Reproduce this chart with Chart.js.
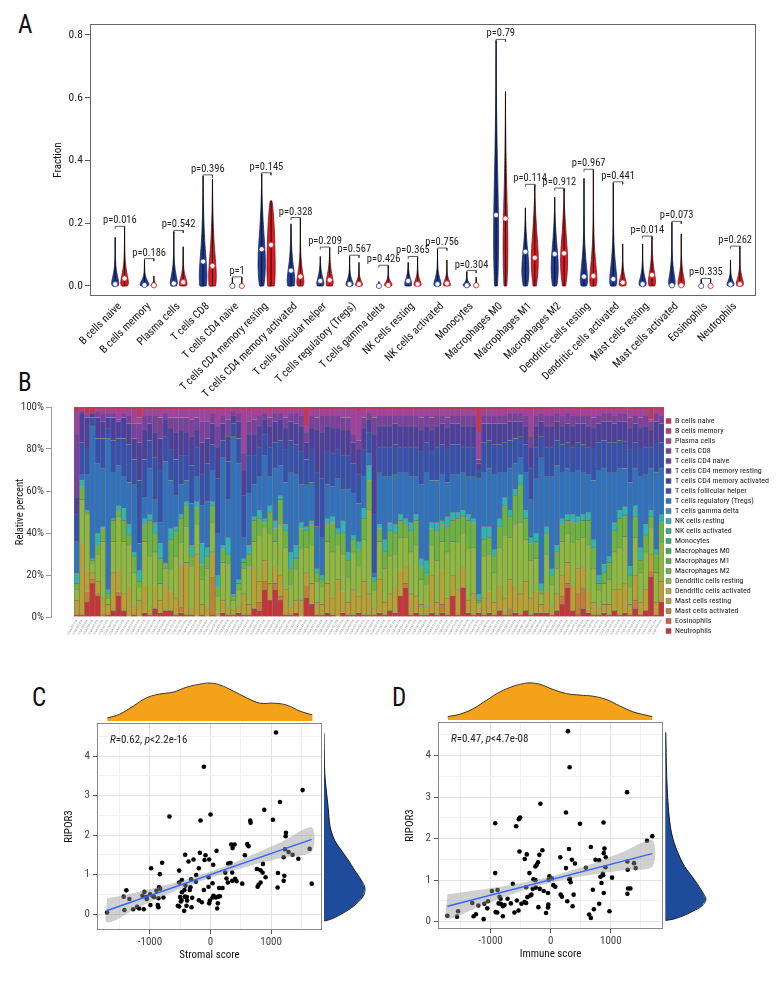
<!DOCTYPE html>
<html><head><meta charset="utf-8">
<script src="https://cdn.jsdelivr.net/npm/chart.js@4.4.1/dist/chart.umd.min.js"></script>
<style>
html,body{margin:0;padding:0;background:#fff;}
#wrap{position:relative;width:780px;height:984px;overflow:hidden;background:#fff;}
#wrap canvas{position:absolute;}
.tag{position:absolute;font-family:'Liberation Sans Narrow','Roboto Condensed',Lato,sans-serif;font-size:25px;line-height:25px;color:#111;}
</style></head><body>
<div id="wrap">
<div class="tag" style="left:18px;top:12px">A</div>
<div class="tag" style="left:18px;top:370px">B</div>
<div class="tag" style="left:32px;top:685px">C</div>
<div class="tag" style="left:392px;top:685px">D</div>
<canvas id="cA" width="780" height="400" style="left:0;top:0"></canvas>
<canvas id="cB" width="780" height="250" style="left:0;top:395px"></canvas>
<canvas id="cC" width="390" height="284" style="left:0;top:700px"></canvas>
<canvas id="cD" width="390" height="284" style="left:390px;top:700px"></canvas>
<canvas id="cCtop" width="225" height="41" style="left:97px;top:680px"></canvas>
<canvas id="cCright" width="45" height="207" style="left:324px;top:723px"></canvas>
<canvas id="cDtop" width="225" height="39" style="left:438px;top:681px"></canvas>
<canvas id="cDright" width="45" height="207" style="left:665px;top:722px"></canvas>
</div>
<script>
// ---------------- Panel A data ----------------
const cellTypes = ['B cells naive','B cells memory','Plasma cells','T cells CD8','T cells CD4 naive','T cells CD4 memory resting','T cells CD4 memory activated','T cells follicular helper','T cells regulatory (Tregs)','T cells gamma delta','NK cells resting','NK cells activated','Monocytes','Macrophages M0','Macrophages M1','Macrophages M2','Dendritic cells resting','Dendritic cells activated','Mast cells resting','Mast cells activated','Eosinophils','Neutrophils'];
const pValues = ['0.016','0.186','0.542','0.396','1','0.145','0.328','0.209','0.567','0.426','0.365','0.756','0.304','0.79','0.114','0.912','0.967','0.441','0.014','0.073','0.335','0.262'];
const blueMax = [0.155,0.083,0.173,0.35,0.025,0.357,0.198,0.094,0.094,0.014,0.075,0.117,0.045,0.782,0.249,0.283,0.343,0.328,0.134,0.202,0.02,0.083];
const blueMedian = [0.006,0.003,0.008,0.078,0.0,0.117,0.049,0.016,0.006,0.0,0.016,0.006,0.002,0.226,0.109,0.102,0.030,0.022,0.006,0.002,0.0,0.005];
const redMax = [0.186,0.032,0.125,0.34,0.025,0.271,0.214,0.12,0.075,0.062,0.09,0.083,0.028,0.62,0.32,0.308,0.368,0.134,0.155,0.166,0.02,0.123];
const redMedian = [0.024,0.002,0.012,0.064,0.0,0.131,0.030,0.019,0.006,0.003,0.006,0.008,0.002,0.215,0.09,0.104,0.032,0.011,0.035,0.002,0.0,0.006];
const blueWidth = [0.12,0.15,0.12,0.13,0.06,0.125,0.13,0.12,0.12,0.05,0.12,0.12,0.13,0.085,0.12,0.12,0.12,0.12,0.12,0.11,0.05,0.12];
const redWidth = [0.13,0.10,0.13,0.13,0.06,0.14,0.12,0.12,0.12,0.13,0.12,0.12,0.08,0.08,0.12,0.12,0.12,0.12,0.12,0.11,0.05,0.12];
const blueShape = ['skew','skew','skew','low','skew','bulge','low','low','skew','skew','low','skew','skew','bulge','bulge','bulge','skew','skew','skew','skew','skew','skew'];
const redShape = ['skew','skew','skew','low','skew','round','skew','low','skew','skew','skew','skew','skew','bulge','mid','mid','skew','skew','low','skew','skew','skew'];
const shapeLevels = [0,0.04,0.1,0.18,0.28,0.4,0.55,0.7,0.85,1];
const shapeSkew  = [0.75,1.0,0.95,0.72,0.45,0.22,0.09,0.04,0.02,0];
const shapeBulge = [0.55,0.75,0.9,1.0,0.95,0.75,0.45,0.22,0.07,0];
const shapeRound = [0.8,0.9,0.95,1.0,1.0,0.95,0.88,0.75,0.55,0.2];
const shapeMid   = [0.45,0.6,0.8,0.95,1.0,0.85,0.55,0.3,0.1,0];
const shapeLow   = [0.8,0.95,1.0,0.9,0.7,0.45,0.25,0.12,0.05,0];
const yTicksA = [0,0.2,0.4,0.6,0.8];

// ---------------- Panel B data (percent per sample) ----------------
const neutrophils = [1,1,7,16,10,0,1,3,10,3, 0,1,0,2,1,4,2,3,3,1, 2,1,1,0,1,0,1,0,2,1, 1,2,1,1,4,3,13,8,13,8, 1,1,2,0,9,6,1,1,2,1, 0,2,1,1,2,1,1,1,2,1, 3,2,10,14,1,2,1,1,2,1, 2,1,10,1,14,2,1,2,1,2, 1,3,1,1,2,1,3,1,2,2, 2,1,3,6,14,3,1,4,2,1, 1,2,1,3,1,2,1,4,1,3, 19,1,7];
const mastActivated = [0,0,5,2,1,1,0,0,2,0, 0,0,0,0,0,0,0,0,0,0, 3,0,0,0,0,0,18,0,0,0, 0,0,0,0,0,4,4,0,3,2, 0,0,0,0,6,0,0,0,0,0, 0,0,0,0,0,0,0,0,0,0, 0,0,0,2,0,0,0,0,0,0, 4,0,0,0,0,0,0,0,0,0, 0,0,0,3,0,0,0,0,0,0, 0,0,0,4,2,0,10,10,0,0, 0,0,0,0,0,0,0,4,0,0, 3,0,0];
const mastResting = [7,34,10,3,6,8,5,18,10,8, 14,4,8,12,4,10,6,12,9,8, 20,25,3,30,5,5,12,2,6,4, 2,3,10,5,20,10,10,8,8,10, 12,4,6,8,6,10,6,5,14,8, 18,10,6,12,8,16,10,3,16,6, 8,12,12,8,10,8,5,4,18,6, 16,8,10,12,10,6,10,2,8,10, 6,12,8,14,12,10,14,8,10,4, 10,4,8,10,10,12,12,10,10,6, 3,4,5,10,12,14,5,12,6,10, 8,6,10];
const dcResting = [5,21,27,4,13,27,3,15,26,25, 20,16,6,22,24,17,8,8,10,20, 10,17,20,14,12,18,14,8,18,20, 5,8,12,18,12,22,15,24,12,24, 20,10,14,24,12,18,10,8,20,22, 16,18,12,18,14,20,40,8,18,16, 18,16,16,14,20,24,12,10,14,20, 14,22,16,22,16,24,22,3,20,18, 14,18,30,20,30,34,20,18,16,5, 18,10,12,16,14,20,14,14,22,16, 8,10,12,18,20,22,8,18,14,18, 12,14,18];
const macroM2 = [3,6,1,2,4,6,2,10,3,10, 5,8,3,8,17,9,12,2,15,12, 12,10,5,8,7,6,8,4,6,5, 2,3,3,6,10,8,3,10,6,12, 8,8,6,10,8,10,4,4,8,14, 6,10,8,6,8,10,14,5,6,8, 12,10,8,6,10,12,6,6,8,14, 8,12,10,12,8,14,12,1,8,8, 8,10,14,10,14,18,10,8,8,2, 10,5,8,8,6,10,8,8,12,10, 4,5,8,10,14,10,6,10,6,8, 6,8,10];
const nkResting = [5,3,1,1,6,1,2,1,2,6, 5,2,5,3,3,5,7,1,5,2, 2,2,5,3,10,4,2,6,2,8, 1,2,2,4,2,4,2,3,4,2, 3,8,6,3,2,2,2,2,3,3, 2,6,4,2,4,5,7,2,2,6, 4,4,3,3,4,3,4,6,3,4, 2,5,4,3,3,3,2,3,6,5, 3,4,4,3,3,5,4,3,4,3, 3,3,3,3,3,4,3,3,4,4, 4,4,3,4,4,4,4,5,6,5, 3,3,4];
const tregs = [15,3,17,63,33,28,72,22,19,15, 20,32,13,10,22,11,10,48,23,15, 14,10,20,12,18,22,15,20,42,18, 75,55,10,25,15,16,30,14,25,14, 20,38,34,18,20,18,20,18,16,14, 24,15,30,20,18,15,6,2,25,30, 22,24,20,22,22,18,35,42,20,20, 22,16,18,18,18,18,20,55,26,28, 36,22,12,20,12,8,18,18,26,60, 24,44,38,22,22,20,22,20,18,28, 50,46,40,24,20,18,40,18,34,24, 20,36,22];
const tfh = [13,15,12,4,12,14,5,15,13,18, 18,12,30,18,13,20,25,12,15,17, 14,12,18,14,15,18,12,26,8,18, 6,12,20,18,14,14,10,14,12,12, 16,15,14,16,12,16,26,28,16,16, 14,16,16,14,14,13,10,28,12,14, 14,14,12,12,14,14,16,14,14,16, 14,16,14,14,12,14,14,4,14,13, 14,13,14,13,12,10,13,15,15,10, 14,14,12,13,12,12,13,13,13,15, 13,13,14,14,13,13,16,12,13,13, 10,14,12];
const cd4MemoryResting = [8,14,15,2,10,8,5,11,8,10, 10,10,18,14,8,12,15,8,10,13, 12,11,14,8,15,12,10,15,8,12, 4,8,12,10,10,10,7,10,10,10, 10,9,10,12,8,10,20,22,12,12, 10,12,12,10,12,10,6,38,10,10, 10,10,10,10,10,10,10,8,10,10, 10,10,10,10,10,10,10,3,9,8, 10,10,9,9,8,7,9,10,10,7, 10,10,9,9,9,10,9,10,10,10, 9,9,10,9,9,9,10,9,10,10, 8,10,9];
const cd8 = [30,1,1,0,3,4,2,2,1,2, 4,7,9,7,4,8,10,3,5,7, 6,7,8,6,10,8,5,10,4,8, 2,4,8,6,7,5,3,4,4,3, 5,4,5,5,5,6,6,8,5,6, 6,6,6,4,4,5,3,8,5,5, 5,4,5,5,5,5,6,5,6,5, 4,5,4,4,5,5,5,2,4,4, 4,4,4,4,4,4,5,5,5,4, 5,5,4,5,5,5,4,4,5,5, 4,4,4,4,4,4,5,4,5,5, 4,4,4];
const plasma = [11,1,1,0,1,2,2,2,5,2, 3,7,3,3,3,3,4,2,4,4, 4,4,5,4,6,6,2,8,3,5, 1,2,21,5,5,3,2,3,2,2, 4,2,2,3,3,3,4,3,3,3, 3,4,4,12,14,4,2,4,3,3, 3,3,3,3,3,3,4,3,4,3, 3,4,3,3,3,3,3,13,3,3, 3,3,3,2,2,2,3,13,3,2, 3,3,2,3,2,3,3,3,3,4, 3,2,2,3,2,2,4,3,4,3, 1,2,2];
const bNaive = [2,1,3,3,1,1,1,1,1,1, 1,1,5,1,1,1,1,1,1,1, 1,1,1,1,1,1,1,1,1,1, 1,1,1,2,1,1,1,2,1,1, 1,1,1,1,9,1,1,1,1,1, 1,1,1,1,2,1,1,1,1,1, 1,1,1,1,1,1,1,1,1,1, 1,1,1,1,1,1,1,12,1,1, 1,1,1,1,1,1,1,1,1,1, 1,1,1,1,1,1,1,1,1,1, 1,1,1,1,1,1,1,1,1,1, 6,1,2];
const noneVisible = neutrophils.map(() => 0);
const samples = neutrophils.map((_, i) => 'TCGA-' + String(i + 1).padStart(3, '0') + '-01A');

// ---------------- Panel C / D data ----------------
const stromalScore = [1080,-110,1520,1146,-678,0,-165,887,656,661, 1030,1245,1240,1636,1229,1289,1355,1449,1207,606, 628,567,342,397,364,99,-176,-83,-22,-99, -281,-419,-364,-193,44,292,331,242,358,-518, -981,-799,-837,-237,-320,-474,-518,-242,-33,-33, 33,-110,766,826,865,859,777,793,826,909, 1113,1207,1218,1108,1670,523,408,358,430,286, 264,198,143,154,127,88,50,33,-11,-22, 121,110,-143,-193,-303,-342,-331,-413,-430,-391, -424,-474,-479,-490,-386,-397,-314,-435,-540,-518, -501,-1708,-1433,-1389,-1422,-1339,-1278,-1212,-1179,-1102, -1124,-1091,-1052,-1058,-997,-992,-948,-931,-893,-849, -832,-860,-871,-860,-777];
const ripor3C = [4.60,3.73,3.14,2.84,2.47,2.52,2.37,2.64,2.37,2.31, 2.39,2.06,1.97,1.65,1.64,1.57,1.50,1.40,1.44,1.77, 1.72,1.49,1.76,1.76,1.67,1.60,1.55,1.49,1.38,1.37, 1.38,1.50,1.33,1.16,1.25,1.28,1.29,1.05,1.05,1.10, 1.16,1.30,1.01,0.99,0.88,0.86,0.80,0.82,0.93,0.69, 0.78,0.61,1.14,1.11,1.27,1.05,0.69,0.74,0.80,0.93, 1.04,0.84,0.97,0.67,0.77,0.77,0.89,0.84,0.83,0.80, 0.90,0.66,0.66,0.45,0.44,0.42,0.46,0.42,0.34,0.27, 0.27,0.14,0.30,0.35,0.41,0.61,0.68,0.72,0.61,0.43, 0.44,0.55,0.35,0.32,0.34,0.21,0.17,0.08,0.21,0.19, 0.43,0.04,0.44,0.60,0.10,0.38,0.12,0.18,0.14,0.12, 0.46,0.56,0.38,0.43,0.50,0.23,0.45,0.43,0.59,0.68, 0.64,0.40,0.23,0.17,0.42];
const immuneScore = [287,315,1270,-171,254,-530,-508,-922,-574,486, 878,1601,1689,-519,-397,-431,-138,-188,-210,-232, -254,-353,-922,304,160,353,403,254,585,668, 745,806,883,894,916,911,1275,1281,1385,1413, 1286,1325,1275,1021,867,828,845,872,883,806, 718,701,977,640,668,364,381,188,166,276, 320,331,309,44,77,-22,22,-33,-44,-39, -44,-77,-204,-116,-182,-248,-298,-287,-254,-320, -337,-408,-386,-436,-408,-535,-563,-486,-602,-629, -662,-717,-767,-795,-828,-866,-833,-850,-795,-888, -916,-883,-977,-1043,-1054,-1104,-1115,-1203,-1242,-1281, -1303,-1540,-1556,-1717];
const ripor3D = [4.59,3.72,3.12,2.84,2.63,2.47,2.51,2.37,2.30,2.36, 2.39,1.95,2.06,1.69,1.62,1.51,1.72,1.61,1.43,1.37, 1.33,1.17,1.17,1.75,1.55,1.49,1.40,1.29,1.30,1.80, 1.49,1.48,1.65,1.76,1.55,1.31,1.45,1.25,1.41,1.29, 0.80,0.80,0.67,1.06,1.15,1.08,0.93,1.12,0.69,0.43, 0.30,0.77,0.25,0.17,0.09,0.37,0.65,0.60,0.65,0.49, 1.03,0.95,1.02,0.88,0.84,1.09,1.04,1.01,0.69,0.41, 0.34,0.21,0.35,0.74,0.79,0.82,0.79,1.02,1.00,0.65, 0.63,0.83,0.59,0.47,0.45,0.27,0.51,0.43,0.22,0.91, 0.44,0.55,0.40,0.37,0.43,0.44,0.55,0.60,0.13,0.22, 0.23,0.76,0.74,0.49,0.32,0.43,0.06,0.39,0.18,0.13, 0.45,0.25,0.12,0.14];
// regression lines and confidence bands
const fitCX = [-1708,1670], fitCY = [0.09,1.89];
const bandCX = [-1708,-1200,-600,0,600,1200,1670];
const bandCLo = [-0.21,0.16,0.57,0.92,1.20,1.43,1.58];
const bandCHi = [0.39,0.56,0.79,1.08,1.44,1.85,2.20];
const fitDX = [-1717,1689], fitDY = [0.37,1.64];
const bandDX = [-1717,-1200,-600,0,600,1200,1689];
const bandDLo = [0.08,0.36,0.68,0.935,1.11,1.24,1.32];
const bandDHi = [0.66,0.76,0.90,1.085,1.35,1.68,1.96];
const corrC = ['0.62','<2.2e-16'], corrD = ['0.47','<4.7e-08'];
// marginal densities (relative heights)
const densCtopX = [-1703,-1499,-1278,-1058,-838,-617,-397,-176,-11,154,375,595,815,1036,1256,1477,1681];
const densCtopY = [0.08,0.18,0.39,0.61,0.71,0.76,0.89,0.97,1.0,0.95,0.79,0.61,0.47,0.47,0.42,0.26,0.16];
const densCrightY = [4.59,3.56,2.72,2.21,1.87,1.62,1.37,1.11,0.86,0.65,0.44,0.19,0.02,-0.11,-0.18];
const densCrightW = [0,0.02,0.1,0.15,0.26,0.42,0.59,0.75,0.91,1.0,0.95,0.71,0.46,0.22,0.02];
const densDtopX = [-1711,-1501,-1281,-1060,-839,-618,-453,-342,-177,44,265,486,707,927,1148,1369,1689];
const densDtopY = [0.09,0.16,0.31,0.54,0.76,0.91,0.98,1.0,0.96,0.82,0.71,0.67,0.64,0.55,0.38,0.22,0.09];
const densDrightY = [4.56,3.58,2.78,2.30,1.98,1.65,1.33,1.01,0.69,0.53,0.37,0.25,0.14,0.06,0.03];
const densDrightW = [0.02,0.04,0.08,0.13,0.2,0.32,0.48,0.72,0.93,1.0,0.89,0.68,0.44,0.2,0.02];

// ---------------- setup ----------------
const FONT = "'Liberation Sans Narrow','Roboto Condensed',Lato,sans-serif";
Chart.defaults.font.family = FONT;
Chart.defaults.color = '#222';
Chart.defaults.animation = false;
Chart.defaults.responsive = false;
Chart.defaults.plugins.legend.display = false;
Chart.defaults.plugins.tooltip.enabled = false;

const framePlugin = color => ({id:'frame', afterDatasetsDraw(chart){
  const a = chart.chartArea, ctx = chart.ctx;
  ctx.save(); ctx.strokeStyle = color; ctx.lineWidth = 1;
  ctx.strokeRect(Math.round(a.left)+0.5, Math.round(a.top)+0.5, Math.round(a.right-a.left)-1, Math.round(a.bottom-a.top)-1);
  ctx.restore();
}});

// ---------------- Panel A ----------------
const shapes = {skew:shapeSkew, bulge:shapeBulge, round:shapeRound, mid:shapeMid, low:shapeLow};
function violinPoly(c, top, hw, prof){
  const pts = [];
  for (let j = 0; j < shapeLevels.length; j++) pts.push({x: c + hw*prof[j], y: top*shapeLevels[j]});
  for (let j = shapeLevels.length-1; j >= 0; j--) pts.push({x: c - hw*prof[j], y: top*shapeLevels[j]});
  pts.push(pts[0]);
  return pts;
}
const BLUE = '#1f3c98', RED = '#e3191f', DX = 0.16;
const dsA = [];
cellTypes.forEach((name, i) => {
  const sides = [
    [i-DX, blueMax[i], blueWidth[i], blueShape[i], BLUE, '#0c1a4f'],
    [i+DX, redMax[i], redWidth[i], redShape[i], RED, '#5e0a0c']];
  sides.forEach(([c, top, hw, shp, col, edge]) => {
    dsA.push({data: violinPoly(c, top, hw, shapes[shp]), fill:'shape', backgroundColor:col, borderColor:edge, borderWidth:0.7, pointRadius:0, tension:0.25, order:3});
    dsA.push({data:[{x:c, y:0}, {x:c, y:top}], borderColor:'#111', borderWidth:1, pointRadius:0, fill:false, order:2});
  });
  const m = Math.max(blueMax[i], redMax[i]) + 0.004;
  dsA.push({data:[{x:i-DX, y:m-0.008}, {x:i-DX, y:m}, {x:i+DX, y:m}, {x:i+DX, y:m-0.008}], borderColor:'#333', borderWidth:0.8, pointRadius:0, fill:false, order:2});
});
dsA.push({data: cellTypes.map((_, i) => ({x:i-DX, y:blueMedian[i]})), showLine:false, pointRadius:2.6, pointBackgroundColor:'#fff', pointBorderColor:BLUE, pointBorderWidth:0.8, order:0});
dsA.push({data: cellTypes.map((_, i) => ({x:i+DX, y:redMedian[i]})), showLine:false, pointRadius:2.6, pointBackgroundColor:'#fff', pointBorderColor:RED, pointBorderWidth:0.8, order:0});

const pLabelPlugin = {id:'pLabels', afterDatasetsDraw(chart){
  const {ctx, scales:{x, y}} = chart;
  ctx.save(); ctx.font = '10.5px ' + FONT; ctx.fillStyle = '#222'; ctx.textAlign = 'center'; ctx.textBaseline = 'alphabetic';
  cellTypes.forEach((_, i) => {
    const m = Math.max(blueMax[i], redMax[i]) + 0.004;
    ctx.fillText('p=' + pValues[i], x.getPixelForValue(i), y.getPixelForValue(m) - 3);
  });
  ctx.restore();
}};

new Chart(document.getElementById('cA'), {
  type:'line',
  data:{datasets: dsA},
  options:{
    layout:{padding:{left:52, top:24, right:24, bottom:0}},
    scales:{
      x:{type:'linear', min:-1.02, max:21.71,
        afterBuildTicks: s => { s.ticks = cellTypes.map((_, i) => ({value:i})); },
        afterFit: s => { s.height = 104; },
        grid:{display:false, drawTicks:false}, border:{display:false},
        ticks:{autoSkip:false, minRotation:45, maxRotation:45, padding:4, font:{size:11}, color:'#111', callback: v => cellTypes[v]}},
      y:{type:'linear', min:-0.032, max:0.835,
        afterBuildTicks: s => { s.ticks = yTicksA.map(v => ({value:v})); },
        afterFit: s => { s.width = 38; },
        grid:{drawOnChartArea:false, tickLength:5, tickColor:'#555'}, border:{display:false},
        ticks:{font:{size:11.5}, color:'#222', padding:2, callback: v => v.toFixed(1)},
        title:{display:true, text:'Fraction', font:{size:11}, color:'#111', padding:0}}
    }
  },
  plugins:[framePlugin('#666'), pLabelPlugin]
});

// ---------------- Panel B ----------------
const bSeries = [
  ['Neutrophils', neutrophils, '#c8333a'],
  ['Eosinophils', noneVisible, '#c8603a'],
  ['Mast cells activated', mastActivated, '#c47f35'],
  ['Mast cells resting', mastResting, '#b9a033'],
  ['Dendritic cells activated', noneVisible, '#a9b63a'],
  ['Dendritic cells resting', dcResting, '#8fb83e'],
  ['Macrophages M2', macroM2, '#6cb43f'],
  ['Macrophages M1', noneVisible, '#52b045'],
  ['Macrophages M0', noneVisible, '#3daf4f'],
  ['Monocytes', noneVisible, '#33ad6d'],
  ['NK cells activated', noneVisible, '#30b08f'],
  ['NK cells resting', nkResting, '#30b3b3'],
  ['T cells gamma delta', noneVisible, '#2f90c2'],
  ['T cells regulatory (Tregs)', tregs, '#2f72c0'],
  ['T cells follicular helper', tfh, '#3550ad'],
  ['T cells CD4 memory activated', noneVisible, '#3b3fa0'],
  ['T cells CD4 memory resting', cd4MemoryResting, '#4e3e9e'],
  ['T cells CD4 naive', noneVisible, '#633e9e'],
  ['T cells CD8', cd8, '#7b3f9f'],
  ['Plasma cells', plasma, '#a4409f'],
  ['B cells memory', noneVisible, '#bd3a8a'],
  ['B cells naive', bNaive, '#c8335a']
];
const sums = samples.map((_, i) => bSeries.reduce((s, d) => s + d[1][i], 0));
new Chart(document.getElementById('cB'), {
  type:'bar',
  data:{datasets: bSeries.map(([label, vals, col]) => ({
    label, backgroundColor:col, borderColor:'#6e6e6e', borderWidth:0.6,
    barPercentage:1, categoryPercentage:1,
    data: vals.map((v, i) => ({x:i, y: v / sums[i] * 100}))
  }))},
  options:{
    layout:{padding:{left:14, top:12, right:1, bottom:0}},
    scales:{
      x:{type:'linear', stacked:true, offset:false, min:-4.93, max:112.5,
        afterBuildTicks: s => { s.ticks = samples.map((_, i) => ({value:i})); },
        afterFit: s => { s.height = 28; },
        grid:{display:false, drawTicks:false}, border:{display:false},
        ticks:{autoSkip:false, minRotation:60, maxRotation:60, padding:2, font:{size:3}, color:'#888', callback: v => samples[v]}},
      y:{stacked:true, min:0, max:100,
        afterBuildTicks: s => { s.ticks = [0,20,40,60,80,100].map(v => ({value:v})); },
        afterFit: s => { s.width = 37; },
        grid:{drawOnChartArea:false, tickLength:5, tickColor:'#999'}, border:{display:true, color:'#999'},
        ticks:{font:{size:11}, color:'#333', padding:2, callback: v => v + '%'},
        title:{display:true, text:'Relative percent', font:{size:10.5}, color:'#111', padding:0}}
    },
    plugins:{legend:{display:true, position:'right', reverse:true, align:'center',
      labels:{boxWidth:5, boxHeight:5, padding:2, font:{size:8}, color:'#222'}}}
  }
});

// ---------------- Panels C / D ----------------
function corrPlugin(vals){ return {id:'corr', afterDatasetsDraw(chart){
  const ctx = chart.ctx, a = chart.chartArea;
  ctx.save(); ctx.fillStyle = '#222'; ctx.textBaseline = 'alphabetic';
  let x = a.left + 13; const y = a.top + 20;
  [['R','italic '], ['=' + vals[0] + ', ', ''], ['p','italic '], [vals[1], '']].forEach(([t, st]) => {
    ctx.font = st + '11px ' + FONT; ctx.fillText(t, x, y); x += ctx.measureText(t).width;
  });
  ctx.restore();
}}; }
const isMajorX = v => v % 1000 === 0;
const isMajorY = v => Math.abs(v - Math.round(v)) < 1e-6;
function scatterChart(id, xs, ys, fitX, fitY, bX, bLo, bHi, xr, yr, xTitle, pad, corr){
  const band = bX.map((x, i) => ({x, y:bHi[i]})).concat(bX.map((x, i) => ({x, y:bLo[i]})).reverse());
  band.push(band[0]);
  new Chart(document.getElementById(id), {
    type:'line',
    data:{datasets:[
      {data: fitX.map((x, i) => ({x, y:fitY[i]})), borderColor:'#3366ff', borderWidth:1.4, pointRadius:0, fill:false, order:0},
      {data: band, fill:'shape', backgroundColor:'rgba(150,150,150,0.45)', borderWidth:0, pointRadius:0, tension:0.3, order:1},
      {data: xs.map((x, i) => ({x, y:ys[i]})), showLine:false, pointRadius:2.3, pointBackgroundColor:'#000', pointBorderWidth:0, order:2}
    ]},
    options:{
      layout:{padding:pad},
      scales:{
        x:{type:'linear', min:xr[0], max:xr[1],
          afterBuildTicks: s => { s.ticks = [-1500,-1000,-500,0,500,1000,1500].map(v => ({value:v})); },
          afterFit: s => { s.height = 32; },
          grid:{color: c => isMajorX(c.tick.value) ? '#e2e2e2' : '#f1f1f1', tickColor: c => isMajorX(c.tick.value) ? '#555' : 'rgba(0,0,0,0)', tickLength:4},
          border:{display:false},
          ticks:{padding:2, font:{size:11}, color:'#444', callback: v => isMajorX(v) ? String(v) : ''},
          title:{display:true, text:xTitle, font:{size:11}, color:'#111', padding:0}},
        y:{type:'linear', min:yr[0], max:yr[1],
          afterBuildTicks: s => { s.ticks = [0,0.5,1,1.5,2,2.5,3,3.5,4,4.5].map(v => ({value:v})); },
          afterFit: s => { s.width = 34; },
          grid:{color: c => isMajorY(c.tick.value) ? '#e2e2e2' : '#f1f1f1', tickColor: c => isMajorY(c.tick.value) ? '#555' : 'rgba(0,0,0,0)', tickLength:4},
          border:{display:false},
          ticks:{padding:3, font:{size:11}, color:'#444', callback: v => isMajorY(v) ? String(v) : ''},
          title:{display:true, text:'RIPOR3', font:{size:11}, color:'#111', padding:0}}
      }
    },
    plugins:[framePlugin('#8a8a8a'), corrPlugin(corr)]
  });
}
scatterChart('cC', stromalScore, ripor3C, fitCX, fitCY, bandCX, bandCLo, bandCHi, [-1874,1840], [-0.405,4.84], 'Stromal score', {left:63, top:23, right:68, bottom:22}, corrC);
scatterChart('cD', immuneScore, ripor3D, fitDX, fitDY, bandDX, bandDLo, bandDHi, [-1873,1867], [-0.177,4.81], 'Immune score', {left:14, top:22, right:117, bottom:23}, corrD);

function topDensity(id, xs, hs, xr, ymax){
  const curve = xs.map((x, i) => ({x, y:hs[i]}));
  const poly = curve.concat([{x:xs[xs.length-1], y:0}, {x:xs[0], y:0}, curve[0]]);
  new Chart(document.getElementById(id), {
    type:'line',
    data:{datasets:[
      {data: curve, borderColor:'#222', borderWidth:0.9, pointRadius:0, fill:false, tension:0.4, order:0},
      {data: poly, fill:'shape', backgroundColor:'#f5a21b', borderWidth:0, pointRadius:0, tension:0, order:1}
    ]},
    options:{layout:{padding:0}, scales:{x:{type:'linear', display:false, min:xr[0], max:xr[1]}, y:{display:false, min:0, max:ymax}}}
  });
}
function rightDensity(id, ys, ws, yr){
  const curve = ys.map((y, i) => ({x:ws[i], y}));
  const poly = curve.concat([{x:0, y:ys[ys.length-1]}, {x:0, y:ys[0]}, curve[0]]);
  new Chart(document.getElementById(id), {
    type:'line',
    data:{datasets:[
      {data: curve, borderColor:'#111', borderWidth:0.9, pointRadius:0, fill:false, tension:0.4, order:0},
      {data: poly, fill:'shape', backgroundColor:'#1f4b9b', borderWidth:0, pointRadius:0, tension:0, order:1}
    ]},
    options:{layout:{padding:0}, scales:{x:{type:'linear', display:false, min:0, max:1.1}, y:{type:'linear', display:false, min:yr[0], max:yr[1]}}}
  });
}
topDensity('cCtop', densCtopX, densCtopY, [-1874,1840], 1.08);
rightDensity('cCright', densCrightY, densCrightW, [-0.405,4.84]);
topDensity('cDtop', densDtopX, densDtopY, [-1873,1867], 1.05);
rightDensity('cDright', densDrightY, densDrightW, [-0.177,4.81]);
</script>
</body></html>
